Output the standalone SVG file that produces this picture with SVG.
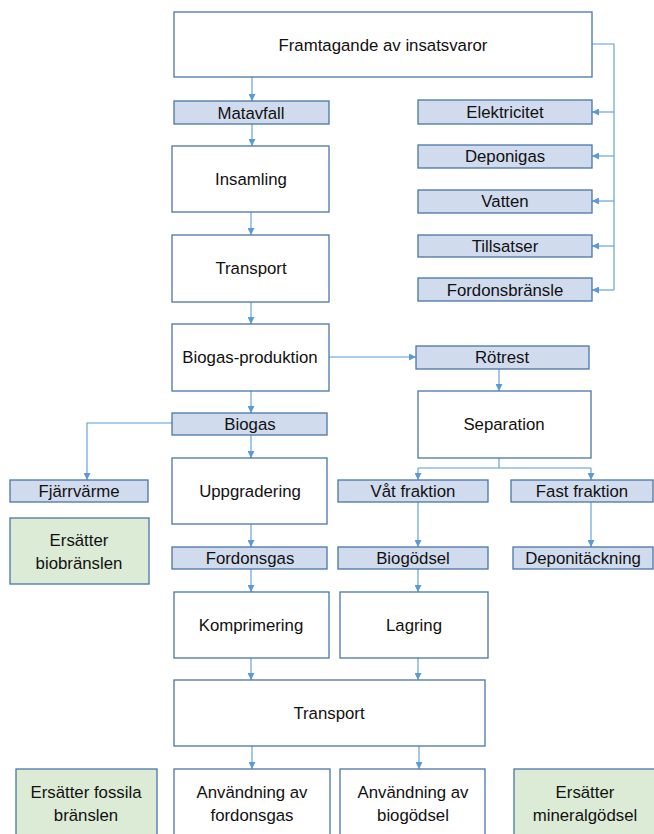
<svg xmlns="http://www.w3.org/2000/svg" width="654" height="834" viewBox="0 0 654 834">
<defs>
<style>
.box{fill:#ffffff;stroke:#4a76a8;stroke-width:1.3}
.lbl{fill:#d0dbee;stroke:#4a76a8;stroke-width:1.3}
.grn{fill:#dcebd6;stroke:#4a76a8;stroke-width:1.3}
.t{font-family:"Liberation Sans",Arial,sans-serif;font-size:16.8px;fill:#111111;text-anchor:middle}
.c{fill:none;stroke:#5b9bd5;stroke-width:1.1}
.a{marker-end:url(#arr)}
</style>
<marker id="arr" markerUnits="userSpaceOnUse" markerWidth="7" markerHeight="7" refX="7" refY="3.5" orient="auto">
<path d="M0,0 L7,3.5 L0,7 z" fill="#5b9bd5"/>
</marker>
</defs>
<rect width="654" height="834" fill="#ffffff"/>

<g id="connectors">
<path class="c a" d="M252,77 V101"/>
<path class="c a" d="M252,124 V146"/>
<path class="c a" d="M251,212 V235"/>
<path class="c a" d="M251,302 V324"/>
<path class="c a" d="M329,357 H416"/>
<path class="c a" d="M251,391 V413"/>
<path class="c a" d="M172,423 H87 V480"/>
<path class="c a" d="M251,435 V458"/>
<path class="c a" d="M499,369 V391"/>
<path class="c" d="M499,458 V468 M418,468 H591"/>
<path class="c a" d="M418,468 V480"/>
<path class="c a" d="M591,468 V480"/>
<path class="c a" d="M251,524 V547"/>
<path class="c a" d="M418,502 V547"/>
<path class="c a" d="M591,502 V547"/>
<path class="c a" d="M251,569 V592"/>
<path class="c a" d="M418,569 V592"/>
<path class="c a" d="M251,658 V680"/>
<path class="c a" d="M418,658 V680"/>
<path class="c a" d="M252,746 V769"/>
<path class="c a" d="M419,746 V769"/>
<path class="c" d="M592,44 H614 V290"/>
<path class="c a" d="M614,112 H592"/>
<path class="c a" d="M614,156 H592"/>
<path class="c a" d="M614,201 H592"/>
<path class="c a" d="M614,246 H592"/>
<path class="c a" d="M614,290 H592"/>
</g>

<g id="framtagande"><rect class="box" x="174" y="12" width="418" height="65"/><text class="t" x="383" y="51">Framtagande av insatsvaror</text></g>
<g id="matavfall"><rect class="lbl" x="174" y="101" width="155" height="23"/><text class="t" x="251" y="118.5">Matavfall</text></g>
<g id="insamling"><rect class="box" x="172" y="146" width="157" height="66"/><text class="t" x="251" y="185">Insamling</text></g>
<g id="transport1"><rect class="box" x="172" y="235" width="157" height="67"/><text class="t" x="251" y="274">Transport</text></g>
<g id="elektricitet"><rect class="lbl" x="418" y="100" width="174" height="24"/><text class="t" x="505" y="118">Elektricitet</text></g>
<g id="deponigas"><rect class="lbl" x="418" y="145" width="174" height="23"/><text class="t" x="505" y="162">Deponigas</text></g>
<g id="vatten"><rect class="lbl" x="418" y="190" width="174" height="23"/><text class="t" x="505" y="207">Vatten</text></g>
<g id="tillsatser"><rect class="lbl" x="418" y="235" width="174" height="22"/><text class="t" x="505" y="252">Tillsatser</text></g>
<g id="fordonsbransle"><rect class="lbl" x="418" y="278" width="174" height="23"/><text class="t" x="505" y="295.5">Fordonsbränsle</text></g>
<g id="biogasproduktion"><rect class="box" x="172" y="324" width="157" height="67"/><text class="t" x="250" y="363">Biogas-produktion</text></g>
<g id="rotrest"><rect class="lbl" x="416" y="346" width="173" height="23"/><text class="t" x="502" y="363">Rötrest</text></g>
<g id="separation"><rect class="box" x="418" y="391" width="173" height="67"/><text class="t" x="504" y="430">Separation</text></g>
<g id="biogas"><rect class="lbl" x="172" y="413" width="155" height="22"/><text class="t" x="250" y="430">Biogas</text></g>
<g id="fjarrvarme"><rect class="lbl" x="10" y="480" width="138" height="22"/><text class="t" x="79" y="497">Fjärrvärme</text></g>
<g id="ersatter-bio"><rect class="grn" x="10" y="518" width="139" height="66"/><text class="t" x="79" y="546">Ersätter</text><text class="t" x="79" y="569">biobränslen</text></g>
<g id="uppgradering"><rect class="box" x="172" y="458" width="155" height="66"/><text class="t" x="250" y="497">Uppgradering</text></g>
<g id="vat"><rect class="lbl" x="338" y="480" width="150" height="22"/><text class="t" x="413" y="497">Våt fraktion</text></g>
<g id="fast"><rect class="lbl" x="511" y="480" width="142" height="22"/><text class="t" x="582" y="497">Fast fraktion</text></g>
<g id="fordonsgas"><rect class="lbl" x="172" y="547" width="155" height="22"/><text class="t" x="250" y="564">Fordonsgas</text></g>
<g id="biogodsel"><rect class="lbl" x="338" y="547" width="150" height="22"/><text class="t" x="413" y="564">Biogödsel</text></g>
<g id="deponitackning"><rect class="lbl" x="513" y="547" width="140" height="22"/><text class="t" x="583" y="564">Deponitäckning</text></g>
<g id="komprimering"><rect class="box" x="174" y="592" width="155" height="66"/><text class="t" x="251" y="631">Komprimering</text></g>
<g id="lagring"><rect class="box" x="340" y="592" width="148" height="66"/><text class="t" x="414" y="631">Lagring</text></g>
<g id="transport2"><rect class="box" x="174" y="680" width="311" height="66"/><text class="t" x="329" y="719">Transport</text></g>
<g id="ersatter-fossila"><rect class="grn" x="16" y="769" width="141" height="70"/><text class="t" x="86" y="798">Ersätter fossila</text><text class="t" x="86" y="821">bränslen</text></g>
<g id="anv-fordonsgas"><rect class="box" x="174" y="769" width="156" height="70"/><text class="t" x="252" y="798">Användning av</text><text class="t" x="252" y="821">fordonsgas</text></g>
<g id="anv-biogodsel"><rect class="box" x="340" y="769" width="145" height="70"/><text class="t" x="413" y="798">Användning av</text><text class="t" x="413" y="821">biogödsel</text></g>
<g id="ersatter-mineral"><rect class="grn" x="514" y="769" width="145" height="70"/><text class="t" x="585" y="798">Ersätter</text><text class="t" x="585" y="821">mineralgödsel</text></g>
</svg>
